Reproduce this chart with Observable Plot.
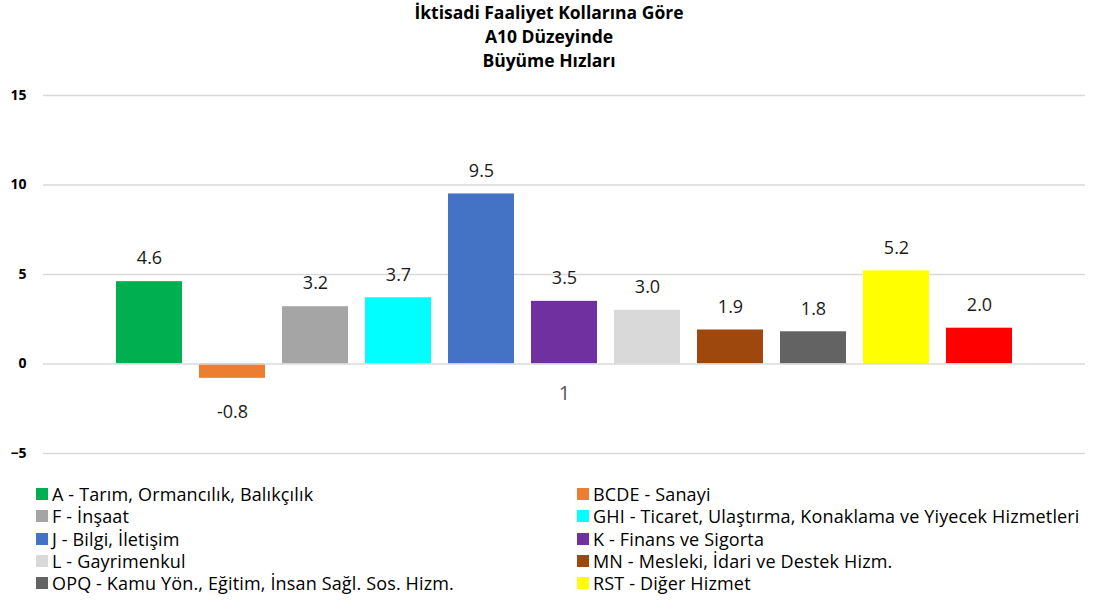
<!DOCTYPE html>
<html>
<head>
<meta charset="utf-8">
<script src="https://cdn.jsdelivr.net/npm/d3@7"></script>
<script src="https://cdn.jsdelivr.net/npm/@observablehq/plot@0.6"></script>
<style>
  html, body { margin: 0; padding: 0; background: #fff; }
  body { width: 1098px; height: 613px; overflow: hidden; font-family: "Open Sans", "Noto Sans", sans-serif; }
  #title { text-align: center; font-weight: bold; font-size: 17.5px; line-height: 24px; color: #000; height: 75px; padding-top: 0px; box-sizing: border-box; }
  #legend { position: relative; height: 130px; font-size: 18px; line-height: 20px; color: #000; letter-spacing: 0.15px; }
  .li { position: absolute; display: flex; align-items: center; white-space: nowrap; height: 22px; line-height: 20px; }
  .sw { width: 12px; height: 12px; margin-right: 4px; flex: none; }
</style>
</head>
<body>
<div id="title"></div>
<div id="chart"></div>
<div id="legend"></div>
<script>
const titleLines = ["İktisadi Faaliyet Kollarına Göre", "A10 Düzeyinde", "Büyüme Hızları"];
const categoryLabels = ["1"];
const series = [
  "A - Tarım, Ormancılık, Balıkçılık",
  "BCDE - Sanayi",
  "F - İnşaat",
  "GHI - Ticaret, Ulaştırma, Konaklama ve Yiyecek Hizmetleri",
  "J - Bilgi, İletişim",
  "K - Finans ve Sigorta",
  "L - Gayrimenkul",
  "MN - Mesleki, İdari ve Destek Hizm.",
  "OPQ - Kamu Yön., Eğitim, İnsan Sağl. Sos. Hizm.",
  "RST - Diğer Hizmet",
  "GSYH"
];
const values = [4.6, -0.8, 3.2, 3.7, 9.5, 3.5, 3.0, 1.9, 1.8, 5.2, 2.0];
const colors = ["#00B050", "#ED7D31", "#A5A5A5", "#00FFFF", "#4472C4", "#7030A0", "#D9D9D9", "#9E480E", "#636363", "#FFFF00", "#FF0000"];
const yTicks = [-5, 0, 5, 10, 15];
const legendCount = 10;

document.getElementById("title").innerHTML = titleLines.map(t => `<div>${t}</div>`).join("");

const data = series.map((s, i) => ({series: s, value: values[i], color: colors[i]}));
const pos = data.filter(d => d.value >= 0);
const neg = data.filter(d => d.value < 0);

const chart = Plot.plot({
  width: 1098,
  height: 400,
  marginLeft: 43,
  marginRight: 13,
  marginTop: 20,
  marginBottom: 22,
  style: {fontFamily: "'Open Sans', sans-serif", background: "#fff"},
  x: {domain: series, range: [98, 1030], padding: 0.2, axis: null},
  y: {domain: [-5, 15], ticks: yTicks},
  color: {domain: series, range: colors},
  marks: [
    Plot.ruleY(yTicks.filter(t => t !== 0), {stroke: "#d9d9d9", strokeWidth: 1.5}),
    Plot.axisY(yTicks, {tickSize: 0, tickPadding: 17, fontWeight: "bold", fontSize: 14, fill: "#000", label: null}),
    Plot.barY(data, {x: "series", y: "value", fill: "series"}),
    Plot.ruleY([0], {stroke: "#d9d9d9", strokeWidth: 2, strokeOpacity: 0.75}),
    Plot.text(pos, {x: "series", y: "value", text: d => d.value.toFixed(1), dy: -23, fontSize: 18, fill: "#1a1a1a", lineAnchor: "middle"}),
    Plot.text(neg, {x: "series", y: "value", text: d => d.value.toFixed(1), dy: 34, fontSize: 18, fill: "#1a1a1a", lineAnchor: "middle"}),
    Plot.text(categoryLabels, {frameAnchor: "middle", dy: 119, fontSize: 20, fill: "#595959"})
  ]
});
document.getElementById("chart").appendChild(chart);

const legend = document.getElementById("legend");
for (let i = 0; i < legendCount; i++) {
  const col = i % 2, row = Math.floor(i / 2);
  const el = document.createElement("div");
  el.className = "li";
  el.style.left = (col === 0 ? 36 : 577) + "px";
  el.style.top = (8 + row * 22.3) + "px";
  el.innerHTML = `<span class="sw" style="background:${colors[i]}"></span><span>${series[i]}</span>`;
  legend.appendChild(el);
}
</script>
</body>
</html>
